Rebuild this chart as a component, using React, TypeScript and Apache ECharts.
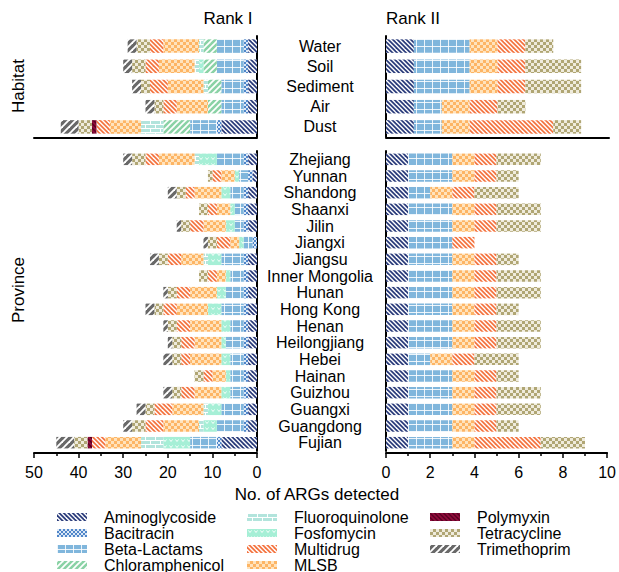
import React, { useEffect, useRef } from 'react';
import * as echarts from 'echarts';

// ---------- categories ----------
const habitats = ['Water', 'Soil', 'Sediment', 'Air', 'Dust'];
const provinces = ['Zhejiang', 'Yunnan', 'Shandong', 'Shaanxi', 'Jilin', 'Jiangxi', 'Jiangsu', 'Inner Mongolia', 'Hunan', 'Hong Kong', 'Henan', 'Heilongjiang', 'Hebei', 'Hainan', 'Guizhou', 'Guangxi', 'Guangdong', 'Fujian'];

// stacking order (from the zero axis outward)
const stackOrder = ['Aminoglycoside', 'Bacitracin', 'Beta-Lactams', 'Chloramphenicol', 'Fosfomycin', 'Fluoroquinolone', 'MLSB', 'Multidrug', 'Polymyxin', 'Tetracycline', 'Trimethoprim'];
const legendCol1 = ['Aminoglycoside', 'Bacitracin', 'Beta-Lactams', 'Chloramphenicol'];
const legendCol2 = ['Fluoroquinolone', 'Fosfomycin', 'Multidrug', 'MLSB'];
const legendCol3 = ['Polymyxin', 'Tetracycline', 'Trimethoprim'];

// left axis ticks (Rank I) and right axis ticks (Rank II)
const rank1Max = 50;
const rank1Interval = 10;
const rank2Max = 10;
const rank2Interval = 2;

// ---------- Rank I, habitat ----------
const habR1Aminoglycoside = [2, 2, 2, 2, 8];
const habR1Bacitracin = [1, 1, 1, 1, 1];
const habR1BetaLactams = [6, 6, 5, 5, 6];
const habR1Chloramphenicol = [3, 3, 3, 3, 6];
const habR1Fosfomycin = [0, 1, 0, 0, 0];
const habR1Fluoroquinolone = [1, 1, 1, 0, 5];
const habR1MLSB = [8, 8, 8, 7, 7];
const habR1Multidrug = [3, 3, 4, 3, 3];
const habR1Polymyxin = [0, 0, 0, 0, 1];
const habR1Tetracycline = [3, 3, 2, 2, 3];
const habR1Trimethoprim = [2, 2, 2, 2, 4];

// ---------- Rank II, habitat ----------
const habR2Aminoglycoside = [1.25, 1.25, 1.25, 1.25, 1.25];
const habR2BetaLactams = [2.5, 2.5, 2.5, 1.25, 1.25];
const habR2MLSB = [1.25, 1.25, 1.25, 1.25, 1.25];
const habR2Multidrug = [1.25, 1.25, 1.25, 1.25, 3.75];
const habR2Tetracycline = [1.25, 2.5, 2.5, 1.25, 1.25];

// ---------- Rank I, province ----------
const provR1Aminoglycoside = [2, 1, 2, 2, 2, 0, 2, 2, 2, 2, 2, 2, 2, 2, 2, 2, 2, 8];
const provR1Bacitracin = [1, 1, 1, 1, 1, 1, 1, 1, 1, 1, 1, 1, 1, 1, 1, 1, 1, 1];
const provR1BetaLactams = [6, 2, 3, 2, 2, 2, 5, 3, 4, 5, 3, 4, 3, 3, 3, 5, 6, 6];
const provR1Fosfomycin = [4, 1, 2, 1, 2, 1, 3, 1, 2, 3, 2, 1, 2, 1, 2, 3, 3, 6];
const provR1Fluoroquinolone = [1, 0, 0, 0, 0, 0, 1, 0, 0, 0, 0, 0, 0, 0, 0, 1, 1, 5];
const provR1MLSB = [8, 3, 6, 3, 5, 2, 5, 2, 6, 7, 7, 6, 7, 3, 6, 7, 8, 8];
const provR1Multidrug = [3, 2, 2, 2, 3, 3, 3, 2, 3, 3, 3, 3, 2, 2, 3, 4, 4, 3];
const provR1Polymyxin = [0, 0, 0, 0, 0, 0, 0, 0, 0, 0, 0, 0, 0, 0, 0, 0, 0, 1];
const provR1Tetracycline = [3, 1, 2, 2, 2, 2, 2, 2, 2, 2, 2, 2, 2, 2, 2, 2, 3, 3];
const provR1Trimethoprim = [2, 0, 2, 0, 1, 1, 2, 0, 1, 2, 1, 1, 2, 0, 2, 2, 2, 4];

// ---------- Rank II, province ----------
const provR2Aminoglycoside = [1, 1, 1, 1, 1, 1, 1, 1, 1, 1, 1, 1, 1, 1, 1, 1, 1, 1];
const provR2BetaLactams = [2, 2, 1, 2, 2, 2, 2, 2, 2, 2, 2, 2, 1, 2, 2, 2, 2, 2];
const provR2MLSB = [1, 1, 1, 1, 1, 0, 1, 1, 1, 1, 1, 1, 1, 1, 1, 1, 1, 1];
const provR2Multidrug = [1, 1, 1, 1, 1, 1, 1, 1, 1, 1, 1, 1, 1, 1, 1, 1, 1, 3];
const provR2Tetracycline = [2, 1, 2, 2, 2, 0, 1, 2, 2, 1, 2, 2, 2, 1, 2, 2, 1, 2];

const FONT = "'Liberation Sans', Arial, Helvetica, sans-serif";

// ---------- fill patterns ----------
function tile(w: number, h: number, draw: (ctx: CanvasRenderingContext2D) => void) {
  const c = document.createElement('canvas');
  c.width = w;
  c.height = h;
  const ctx = c.getContext('2d') as CanvasRenderingContext2D;
  draw(ctx);
  return { image: c, repeat: 'repeat', imageWidth: w, imageHeight: h } as any;
}

function stripes(bg: string, fg: string, size: number, n: number, lw: number, dir: 'back' | 'fwd') {
  return tile(size, size, (ctx) => {
    ctx.fillStyle = bg;
    ctx.fillRect(0, 0, size, size);
    ctx.strokeStyle = fg;
    ctx.lineWidth = lw;
    const step = size / n;
    for (let o = -size; o <= size + 0.01; o += step) {
      ctx.beginPath();
      if (dir === 'back') {
        ctx.moveTo(o - 1, -1);
        ctx.lineTo(o + size + 1, size + 1);
      } else {
        ctx.moveTo(o - 1, size + 1);
        ctx.lineTo(o + size + 1, -1);
      }
      ctx.stroke();
    }
  });
}

function checker(bg: string, fg: string, cell: number) {
  return tile(cell * 2, cell * 2, (ctx) => {
    ctx.fillStyle = bg;
    ctx.fillRect(0, 0, cell * 2, cell * 2);
    ctx.fillStyle = fg;
    ctx.fillRect(0, 0, cell, cell);
    ctx.fillRect(cell, cell, cell, cell);
  });
}

function buildPatterns(): Record<string, any> {
  return {
    Aminoglycoside: stripes('#2b3c7b', '#ffffff', 9, 2, 1.4, 'back'),
    Bacitracin: checker('#4f86c9', '#dce8f6', 2),
    'Beta-Lactams': tile(8, 7, (ctx) => {
      ctx.fillStyle = '#80b6dc';
      ctx.fillRect(0, 0, 8, 7);
      ctx.fillStyle = 'rgba(255,255,255,0.85)';
      ctx.fillRect(0, 0, 1, 7);
      ctx.fillRect(0, 4, 8, 1);
    }),
    Chloramphenicol: stripes('#8ad2a5', '#ffffff', 6, 1, 1.7, 'fwd'),
    Fluoroquinolone: tile(10, 8, (ctx) => {
      ctx.fillStyle = '#b2e4dc';
      ctx.fillRect(0, 0, 10, 8);
      ctx.fillStyle = '#ffffff';
      ctx.fillRect(0, 0, 10, 1);
      ctx.fillRect(0, 4, 10, 1);
      ctx.fillRect(0, 0, 1, 4);
      ctx.fillRect(5, 4, 1, 4);
    }),
    Fosfomycin: tile(6, 6, (ctx) => {
      ctx.fillStyle = '#a6efd6';
      ctx.fillRect(0, 0, 6, 6);
      ctx.strokeStyle = '#ffffff';
      ctx.lineWidth = 0.9;
      ctx.beginPath();
      ctx.moveTo(1.5, 1.5);
      ctx.lineTo(3, 3.5);
      ctx.lineTo(4.5, 1.5);
      ctx.stroke();
    }),
    Multidrug: stripes('#f47440', '#ffffff', 9, 2, 1.4, 'back'),
    MLSB: checker('#fdb565', '#ffe3bd', 3),
    Polymyxin: stripes('#900c3c', '#5a0022', 9, 2, 1.4, 'back'),
    Tetracycline: checker('#b0a674', '#efebdc', 3),
    Trimethoprim: stripes('#686868', '#ffffff', 7, 1, 1.9, 'fwd'),
  };
}

function buildOption() {
  const patterns = buildPatterns();

  const habR1: Record<string, number[]> = {
    Aminoglycoside: habR1Aminoglycoside, Bacitracin: habR1Bacitracin, 'Beta-Lactams': habR1BetaLactams,
    Chloramphenicol: habR1Chloramphenicol, Fosfomycin: habR1Fosfomycin, Fluoroquinolone: habR1Fluoroquinolone,
    MLSB: habR1MLSB, Multidrug: habR1Multidrug, Polymyxin: habR1Polymyxin, Tetracycline: habR1Tetracycline,
    Trimethoprim: habR1Trimethoprim,
  };
  const habR2: Record<string, number[]> = {
    Aminoglycoside: habR2Aminoglycoside, 'Beta-Lactams': habR2BetaLactams, MLSB: habR2MLSB,
    Multidrug: habR2Multidrug, Tetracycline: habR2Tetracycline,
  };
  const provR1: Record<string, number[]> = {
    Aminoglycoside: provR1Aminoglycoside, Bacitracin: provR1Bacitracin, 'Beta-Lactams': provR1BetaLactams,
    Fosfomycin: provR1Fosfomycin, Fluoroquinolone: provR1Fluoroquinolone, MLSB: provR1MLSB,
    Multidrug: provR1Multidrug, Polymyxin: provR1Polymyxin, Tetracycline: provR1Tetracycline,
    Trimethoprim: provR1Trimethoprim,
  };
  const provR2: Record<string, number[]> = {
    Aminoglycoside: provR2Aminoglycoside, 'Beta-Lactams': provR2BetaLactams, MLSB: provR2MLSB,
    Multidrug: provR2Multidrug, Tetracycline: provR2Tetracycline,
  };

  const panels = [
    { data: habR1, barWidth: 13.5 },
    { data: habR2, barWidth: 13.5 },
    { data: provR1, barWidth: 11.5 },
    { data: provR2, barWidth: 11.5 },
  ];

  const series: any[] = [];
  panels.forEach((p, gi) => {
    stackOrder.forEach((name) => {
      const d = p.data[name];
      if (!d) return;
      series.push({
        type: 'bar',
        name,
        xAxisIndex: gi,
        yAxisIndex: gi,
        stack: 'panel' + gi,
        barWidth: p.barWidth,
        data: d,
        itemStyle: { color: patterns[name], borderWidth: 0 },
        emphasis: { disabled: true },
        silent: true,
      });
    });
  });

  const axisLine = { show: true, onZero: false, lineStyle: { color: '#000', width: 2 } };
  const tickStyle = { color: '#000', width: 1.5 };
  const labelStyle = { color: '#000', fontSize: 16, fontFamily: FONT };

  const xHidden = (gi: number, max: number, inverse: boolean) => ({
    gridIndex: gi, type: 'value', min: 0, max, inverse, offset: 1,
    axisLine, axisTick: { show: false }, axisLabel: { show: false }, splitLine: { show: false },
  });
  const xShown = (gi: number, max: number, interval: number, inverse: boolean) => ({
    gridIndex: gi, type: 'value', min: 0, max, interval, inverse, offset: 2,
    axisLine,
    axisTick: { show: true, length: 5, lineStyle: tickStyle },
    minorTick: { show: true, splitNumber: 2, length: 3, lineStyle: tickStyle },
    axisLabel: { ...labelStyle, margin: 11 },
    splitLine: { show: false },
    minorSplitLine: { show: false },
  });

  const yCat = (gi: number, data: string[], position: string, showLabel: boolean) => ({
    gridIndex: gi, type: 'category', data, inverse: true, position,
    axisLine, axisTick: { show: false },
    axisLabel: showLabel ? { ...labelStyle, interval: 0, align: 'center', margin: 63 } : { show: false },
    splitLine: { show: false },
  });

  const textStyle = (size: number) => ({ fill: '#000', fontSize: size, fontFamily: FONT, align: 'center', verticalAlign: 'middle' });

  return {
    animation: false,
    backgroundColor: '#ffffff',
    grid: [
      { left: 34, top: 36, width: 223, height: 101 },
      { left: 386, top: 36, width: 223, height: 101 },
      { left: 34, top: 151, width: 223, height: 300 },
      { left: 386, top: 151, width: 223, height: 300 },
    ],
    xAxis: [
      xHidden(0, rank1Max, true),
      xHidden(1, rank2Max, false),
      xShown(2, rank1Max, rank1Interval, true),
      xShown(3, rank2Max, rank2Interval, false),
    ],
    yAxis: [
      yCat(0, habitats, 'right', true),
      yCat(1, habitats, 'left', false),
      yCat(2, provinces, 'right', true),
      yCat(3, provinces, 'left', false),
    ],
    legend: [legendCol1, legendCol2, legendCol3].map((data, i) => ({
      data,
      orient: 'vertical',
      left: [57, 247, 430][i],
      top: 509,
      height: 70,
      padding: 0,
      itemWidth: 30,
      itemHeight: 8,
      itemGap: 0,
      icon: 'rect',
      selectedMode: false,
      textStyle: { color: '#000', fontSize: 16, fontFamily: FONT, lineHeight: 16, padding: [0, 0, 0, 12] },
    })),
    graphic: [
      { type: 'text', x: 228, y: 18, style: { text: 'Rank I', ...textStyle(17) } },
      { type: 'text', x: 413, y: 18, style: { text: 'Rank II', ...textStyle(17) } },
      { type: 'text', x: 18, y: 86, rotation: Math.PI / 2, style: { text: 'Habitat', ...textStyle(17) } },
      { type: 'text', x: 18, y: 290, rotation: Math.PI / 2, style: { text: 'Province', ...textStyle(17) } },
      { type: 'text', x: 317, y: 494, style: { text: 'No. of ARGs detected', ...textStyle(17) } },
    ],
    series,
  };
}

export default function App() {
  const ref = useRef<HTMLDivElement>(null);
  useEffect(() => {
    if (!ref.current) return;
    const chart = echarts.init(ref.current, null, { renderer: 'svg' });
    chart.setOption(buildOption() as any);
    return () => chart.dispose();
  }, []);
  return <div ref={ref} style={{ position: 'fixed', left: 0, top: 0, width: 619, height: 572, background: '#fff' }} />;
}
